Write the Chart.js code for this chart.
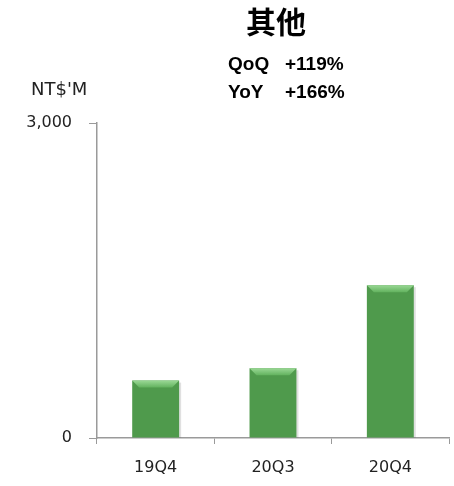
<!DOCTYPE html>
<html lang="zh-Hant">
<head>
    <meta charset="UTF-8">
    <title>其他</title>
    <script src="https://cdn.jsdelivr.net/npm/chart.js"></script>
    <style>
        body { margin: 0; background: #fff; }
        #chart { display: block; }
    </style>
</head>
<body>
    <canvas id="chart" width="454" height="486"></canvas>
    <script>
        // data
        const quarters = ['19Q4', '20Q3', '20Q4'];
        const revenue = [547, 664, 1455];
        const yTicks = [0, 3000];
        const titleText = '其他';
        const growth = [['QoQ', '+119%'], ['YoY', '+166%']];
        const unitLabel = "NT$'M";

        const ctx = document.getElementById('chart').getContext('2d');

        function barFill(context) {
            const el = context.element;
            if (!el || el.width === undefined) return '#4f9a4c';
            const x0 = el.x - el.width / 2, x1 = el.x + el.width / 2;
            const g = context.chart.ctx.createLinearGradient(x0, 0, x1, 0);
            g.addColorStop(0, '#37743a');
            g.addColorStop(0.12, '#4f9a4c');
            g.addColorStop(0.88, '#4f9a4c');
            g.addColorStop(1, '#37743a');
            return g;
        }

        // light bevel on top of each bar, using the bar elements from the library
        const bevel = {
            id: 'bevel',
            afterDatasetsDraw(chart) {
                const c = chart.ctx;
                chart.getDatasetMeta(0).data.forEach(bar => {
                    const l = bar.x - bar.width / 2, r = bar.x + bar.width / 2;
                    const t = bar.y, d = 7;
                    c.save();
                    const g = c.createLinearGradient(0, t, 0, t + d);
                    g.addColorStop(0, '#9ad895');
                    g.addColorStop(1, '#62b25e');
                    c.fillStyle = g;
                    c.beginPath();
                    c.moveTo(l, t);
                    c.lineTo(r, t);
                    c.lineTo(r - d, t + d);
                    c.lineTo(l + d, t + d);
                    c.closePath();
                    c.fill();
                    // faint shadow on the right side
                    c.fillStyle = 'rgba(0,0,0,0.12)';
                    c.fillRect(r, t + 2, 2, bar.base - t - 2);
                    c.restore();
                });
            }
        };

        const labels = {
            id: 'labels',
            afterDraw(chart) {
                const c = chart.ctx;
                c.save();
                c.fillStyle = '#000';
                c.textBaseline = 'middle';
                c.textAlign = 'center';
                c.font = 'bold 30px "Noto Sans CJK TC"';
                c.fillText(titleText, 276, 22);
                c.textAlign = 'left';
                c.font = 'bold 19px "Liberation Sans"';
                growth.forEach((g, i) => {
                    c.fillText(g[0], 228, 65 + i * 28);
                    c.fillText(g[1], 285, 65 + i * 28);
                });
                c.font = '18px "DejaVu Sans"';
                c.fillStyle = '#222';
                c.fillText(unitLabel, 31, 90);
                c.restore();
            }
        };

        new Chart(ctx, {
            type: 'bar',
            data: {
                labels: quarters,
                datasets: [{
                    data: revenue,
                    backgroundColor: barFill,
                    borderWidth: 0,
                    barPercentage: 0.4,
                    categoryPercentage: 1
                }]
            },
            options: {
                responsive: false,
                animation: false,
                layout: { padding: { left: 0, right: 5, top: 123, bottom: 0 } },
                plugins: {
                    legend: { display: false },
                    tooltip: { enabled: false }
                },
                scales: {
                    x: {
                        grid: { display: true, drawOnChartArea: false, offset: true, tickLength: 6, color: '#9a9a9a' },
                        border: { color: '#9a9a9a', width: 1.5 },
                        ticks: { color: '#222', font: { family: 'DejaVu Sans', size: 16 }, padding: 14 },
                        afterFit(s) { s.height = 48; }
                    },
                    y: {
                        min: 0,
                        max: 3000,
                        afterBuildTicks(s) { s.ticks = yTicks.map(v => ({ value: v })); },
                        grid: { display: true, drawOnChartArea: false, tickLength: 8, color: '#9a9a9a' },
                        border: { color: '#9a9a9a', width: 1.5 },
                        ticks: {
                            color: '#222',
                            font: { family: 'DejaVu Sans', size: 16 },
                            padding: 17,
                            callback: v => v.toLocaleString('en-US')
                        },
                        afterFit(s) { s.width = 97; }
                    }
                }
            },
            plugins: [bevel, labels]
        });
    </script>
</body>
</html>
